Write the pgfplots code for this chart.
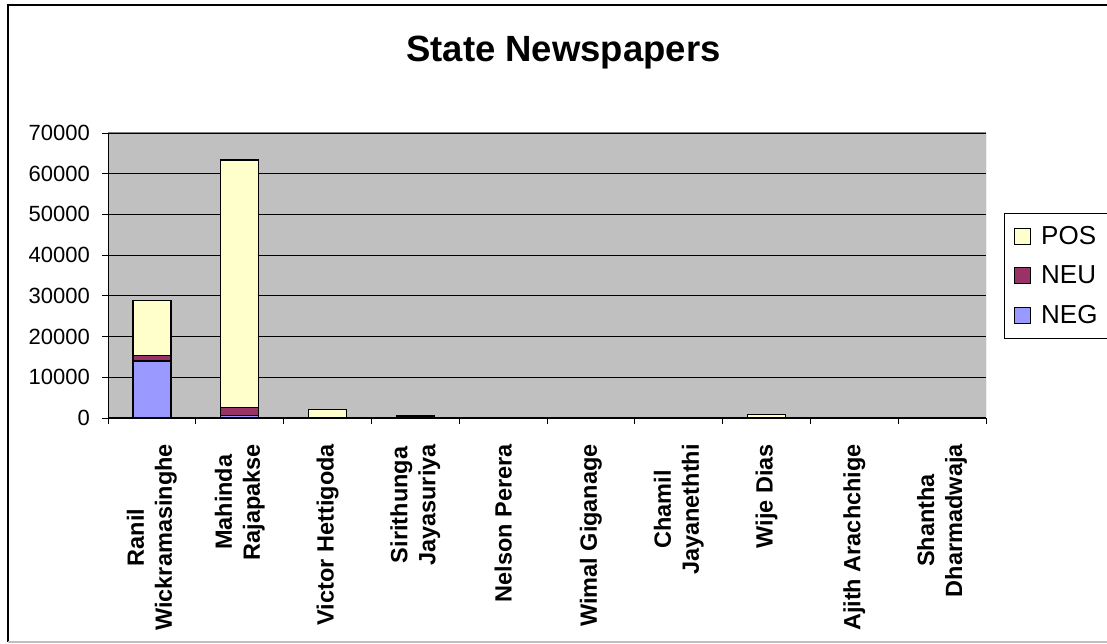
\documentclass[border=0pt]{standalone}
\usepackage{fontspec}
\setmainfont{Liberation Sans}
\usepackage{pgfplots}
\pgfplotsset{compat=1.18}
\definecolor{posc}{HTML}{FFFFCC}
\definecolor{neuc}{HTML}{993366}
\definecolor{negc}{HTML}{9999FF}
\definecolor{plotbg}{HTML}{C0C0C0}
\begin{document}
\begin{tikzpicture}[x=1pt,y=1pt]
\useasboundingbox (0,0) rectangle (1107,644);
\draw[black, line width=1.6pt] (8,2) -- (8,639) -- (1120,639);
\draw[black!25, line width=1.6pt] (8,2) -- (1120,2);
\node[font=\fontsize{36.5}{42}\selectfont\bfseries, anchor=base] at (563.5,582) {State Newspapers};
\begin{axis}[
  at={(108pt,226pt)}, anchor=south west,
  scale only axis, width=878pt, height=285pt,
  ybar stacked, bar width=38pt, bar shift=0pt,
  xmin=-0.5, xmax=9.5, ymin=0, ymax=70000,
  axis x line*=bottom, axis y line*=left,
  axis line style={-, black, line width=1pt},
  axis background/.style={fill=plotbg},
  ymajorgrids, grid style={black, line width=0.9pt},
  ytick={0,10000,...,70000},
  scaled y ticks=false,
  /pgf/number format/1000 sep={},
  /pgf/number format/assume math mode=true,
  tick align=outside,
  major tick length=6pt, minor tick length=6pt,
  tick style={black, line width=0.9pt},
  xtick={0,...,9},
  minor xtick={-0.5,0.5,...,9.5},
  xtick style={draw=none},
  minor x tick style={draw=black, line width=0.9pt},
  xticklabels={{Ranil\\Wickramasinghe},{Mahinda\\Rajapakse},{Victor Hettigoda},{Sirithunga\\Jayasuriya},{Nelson Perera},{Wimal Giganage},{Chamil\\Jayaneththi},{Wije Dias},{Ajith Arachchige},{Shantha\\Dharmadwaja}},
  xticklabel style={rotate=90, anchor=east, align=center, font=\fontsize{23.5}{28}\selectfont\bfseries, inner sep=0pt},
  xticklabel shift=20pt,
  yticklabel style={font=\fontsize{22}{26}\selectfont, inner sep=0pt},
  yticklabel shift=12pt,
  reverse legend,
  legend style={at={(1.0205,0.7193)}, anchor=north west, draw=black, line width=0.8pt, fill=white,
    font=\fontsize{26}{30}\selectfont, inner xsep=10pt, inner ysep=11pt, row sep=16pt,
    /tikz/every odd column/.append style={column sep=8pt}},
  legend cell align=left,
  legend image code/.code={\draw[#1, draw=black, line width=0.8pt] (0pt,-8pt) rectangle (16pt,8pt);},
]
\addplot[fill=negc, draw=black, line width=1.4pt] coordinates {(0,14000) (1,650) (2,50) (3,100) (4,0) (5,0) (6,0) (7,50) (8,0) (9,0)};
\addplot[fill=neuc, draw=black, line width=1.4pt] coordinates {(0,1400) (1,1900) (2,100) (3,100) (4,0) (5,0) (6,0) (7,50) (8,0) (9,0)};
\addplot[fill=posc, draw=black, line width=1.4pt] coordinates {(0,13400) (1,60800) (2,2000) (3,400) (4,0) (5,0) (6,0) (7,800) (8,0) (9,0)};
\legend{NEG,NEU,POS}
\draw[gray, line width=1pt] (rel axis cs:0,1) -- (rel axis cs:1,1) -- (rel axis cs:1,0);
\end{axis}
\end{tikzpicture}
\end{document}
